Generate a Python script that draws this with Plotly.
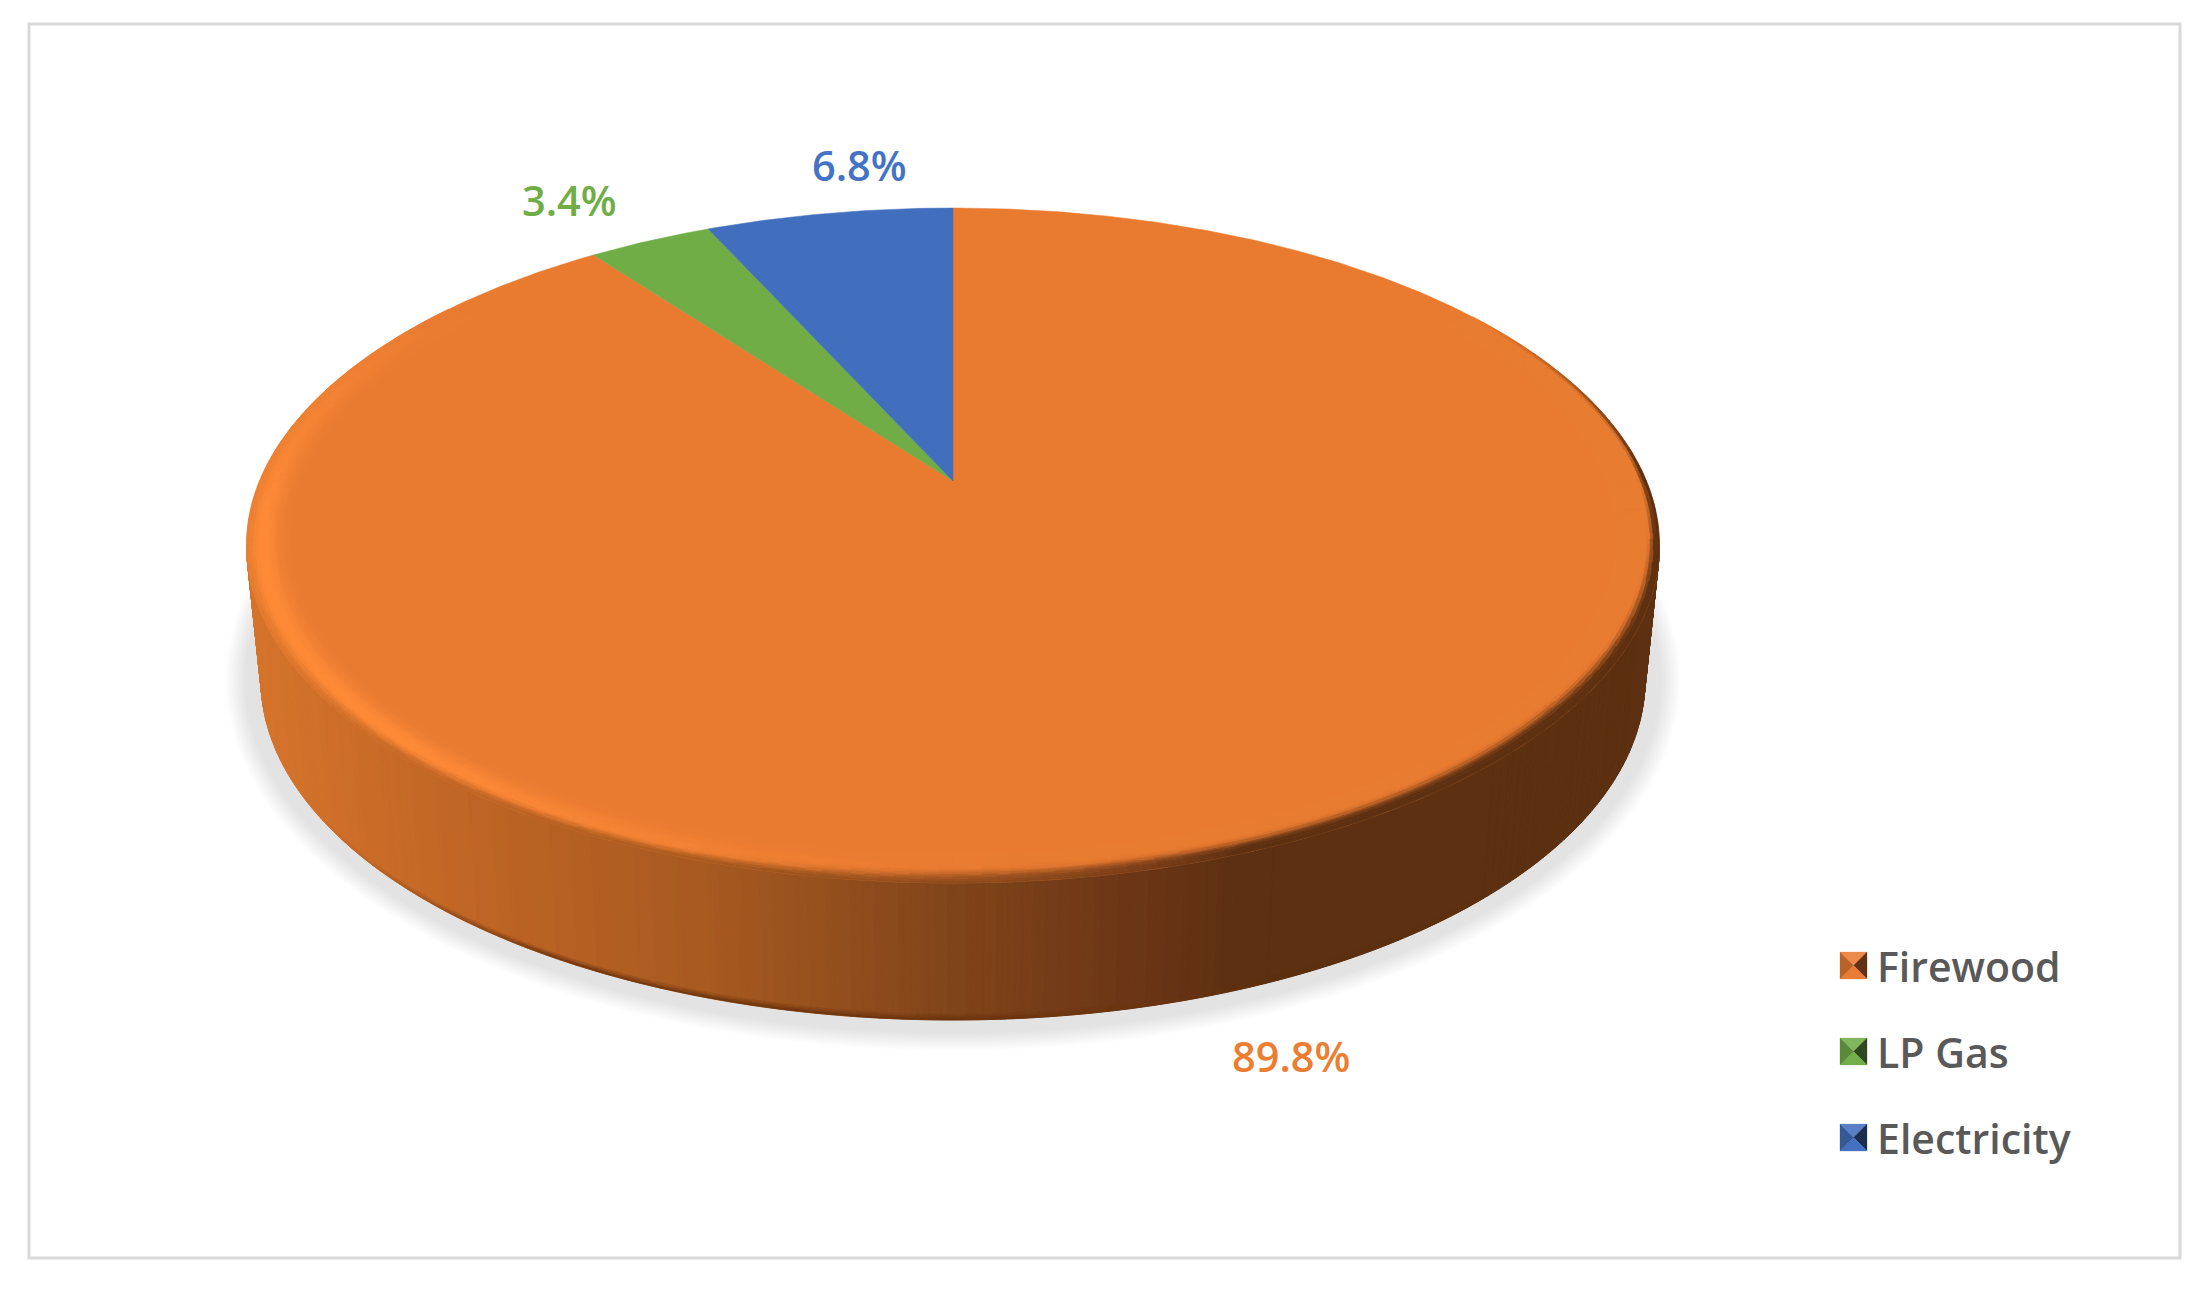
import numpy as np
import plotly.graph_objects as go

# chart data
categories = ["Firewood", "LP Gas", "Electricity"]
shares = [89.8, 3.4, 6.8]
share_labels = ["89.8%", "3.4%", "6.8%"]
slice_colors = ["#E97B31", "#70AD47", "#416FBE"]
label_colors = ["#ED7D31", "#70AD47", "#4472C4"]

# where things sit, in page pixels (the axes run 0-2204 and 1292-0)
label_x = [1291, 569, 859]
label_y = [1056, 200, 165]
legend_y = [965.5, 1051.5, 1137.5]
legend_icon_x = 1853.5
legend_text_x = 1875
icon_half = 13.5

W, H = 2204, 1292
FONT = "Open Sans"

# top face: circle seen in perspective, so the apex is above the ellipse centre
CX, APEX_Y = 953.0, 481.0
BACK_R, FRONT_R, TOP_RX = 273.0, 402.0, 706.5
K = (FRONT_R / BACK_R - 1) / (FRONT_R / BACK_R + 1)
B = BACK_R * (1 + K)
A = TOP_RX * np.sqrt(1 - K ** 2)
TOP_CY = APEX_Y + B * K / (1 - K ** 2)
TOP_RY = (FRONT_R + BACK_R) / 2

# bottom rim of the disc
BOT_CY, BOT_RX, BOT_RY = 680.0, 692.0, 340.0

# side wall colour by page x
side_x = [247, 480, 700, 968, 1146, 1236, 1660]
side_rgb = [(214, 116, 44), (190, 100, 37), (168, 90, 32), (126, 67, 25),
            (106, 53, 21), (93, 48, 17), (93, 48, 17)]

BASE = (233, 123, 49)
HIGHLIGHT = (255, 139, 56)


def hex_rgb(h):
    return tuple(int(h[i:i + 2], 16) for i in (1, 3, 5))


def mix(a, b, t):
    return tuple(a[i] + (b[i] - a[i]) * t for i in range(3))


def side_color(x):
    return tuple(np.interp(x, side_x, [c[i] for c in side_rgb]) for i in range(3))


def top_point(theta, s=1.0):
    """Point on the top face; theta in degrees clockwise from 12 o'clock, s = radial scale."""
    t = np.radians(theta)
    w = 1 + K * s * np.cos(t)
    return CX + A * s * np.sin(t) / w, APEX_Y - B * s * np.cos(t) / w


def ramp(v, a, b):
    return float(np.clip((v - a) / (b - a), 0, 1))


def smooth(t):
    return t * t * (3 - 2 * t)


def rim_color(theta, u):
    """Bevel colour; u runs 0 (inner) to 1 (outer edge)."""
    side = side_color(top_point(theta)[0])
    hl = ramp(theta, 178, 225) * (1 - ramp(theta, 262, 305))
    peak = mix(BASE, HIGHLIGHT, hl)
    if u < 0.65:
        col = mix(BASE, peak, smooth(u / 0.65))
    else:
        to_side = ramp(theta, 150, 190) * (1 - ramp(theta, 225, 295))
        col = mix(peak, side, to_side * smooth((u - 0.65) / 0.35))
    # right hand side fades straight into the dark wall
    dark = ramp(theta, 58, 88) * (1 - ramp(theta, 160, 200))
    width = 0.14 + 0.4 * ramp(theta, 85, 130)
    t = smooth(float(np.clip((u - (1 - width)) / (width * 0.7), 0, 1)))
    return mix(col, side, dark * t)


def add_quad(groups, xs, ys, rgb):
    key = tuple(int(round(c / 2.0) * 2) for c in rgb)
    gx, gy = groups.setdefault(key, ([], []))
    gx.extend(list(xs) + [xs[0], None])
    gy.extend(list(ys) + [ys[0], None])


def add_groups(fig, groups, line_width=1.0):
    for rgb, (gx, gy) in groups.items():
        col = "rgb(%d,%d,%d)" % rgb
        fig.add_trace(go.Scatter(x=gx, y=gy, mode="lines", fill="toself", fillcolor=col,
                                 line=dict(color=col, width=line_width),
                                 hoverinfo="skip", showlegend=False))


fig = go.Figure()

# soft shadow under the disc, flat near the wall and fading at the outside
shadow_steps = 14
for i in range(shadow_steps, 0, -1):
    f = 0.4 + 0.6 * i / shadow_steps
    phi = np.radians(np.arange(0, 361, 2))
    fig.add_trace(go.Scatter(
        x=CX + (BOT_RX + 36 * f) * np.sin(phi),
        y=BOT_CY - (BOT_RY + 31 * f) * np.cos(phi),
        mode="lines", fill="toself", fillcolor="rgba(0,0,0,0.0095)",
        line=dict(width=0), hoverinfo="skip", showlegend=False))

# side wall
side_groups = {}
step = 0.5
for phi in np.arange(90, 270, step):
    p = np.radians([phi, phi + step])
    tx = CX + TOP_RX * np.sin(p)
    ty = TOP_CY - TOP_RY * np.cos(p)
    bx = CX + BOT_RX * np.sin(p)
    by = BOT_CY - BOT_RY * np.cos(p)
    add_quad(side_groups, [tx[0], tx[1], bx[1], bx[0]], [ty[0], ty[1], by[1], by[0]], side_color(tx.mean()))
add_groups(fig, side_groups)

# slightly darker lip along the bottom of the wall
lip_groups = {}
for phi in np.arange(130, 245, 1.0):
    p = np.radians([phi, phi + 1.0])
    mid_x = CX + BOT_RX * np.sin(p).mean()
    strength = ramp(mid_x, 330, 560) * (1 - ramp(mid_x, 1000, 1260))
    for j in range(3):
        r0, r1 = 6 - 2 * j, 4 - 2 * j
        ox = CX + (BOT_RX - r1 * 0.2) * np.sin(p)
        oy = BOT_CY - (BOT_RY - r1) * np.cos(p)
        ix = CX + (BOT_RX - r0 * 0.2) * np.sin(p)
        iy = BOT_CY - (BOT_RY - r0) * np.cos(p)
        col = mix(side_color(mid_x), (104, 50, 12), strength * (0.25 + 0.3 * j))
        add_quad(lip_groups, [ix[0], ix[1], ox[1], ox[0]], [iy[0], iy[1], oy[1], oy[0]], col)
add_groups(fig, lip_groups, line_width=0.4)

# slices on the top face, clockwise from 12 o'clock
start = 0.0
for value, color in zip(shares, slice_colors):
    end = start + value / sum(shares) * 360
    angles = np.linspace(start, end, max(int(end - start) * 2, 2))
    px, py = top_point(angles)
    fig.add_trace(go.Scatter(
        x=[CX] + list(px) + [CX], y=[APEX_Y] + list(py) + [APEX_Y],
        mode="lines", fill="toself", fillcolor=color,
        line=dict(color=color, width=0.5), hoverinfo="skip", showlegend=False))
    start = end

# bevel along the rim
rim_groups = {}
rings = np.linspace(0.94, 1.0, 15)
d_theta = 1.0
for theta in np.arange(56, 306, d_theta):
    for j in range(len(rings) - 1):
        s0, s1 = rings[j], rings[j + 1]
        x00, y00 = top_point(theta, s0)
        x01, y01 = top_point(theta + d_theta, s0)
        x11, y11 = top_point(theta + d_theta, s1)
        x10, y10 = top_point(theta, s1)
        add_quad(rim_groups, [x00, x01, x11, x10], [y00, y01, y11, y10],
                 rim_color(theta + d_theta / 2, (j + 0.5) / (len(rings) - 1)))
add_groups(fig, rim_groups, line_width=0.6)

# legend swatches: small bevelled squares
for y_mid, color in zip(legend_y, slice_colors):
    base = hex_rgb(color)
    c = (legend_icon_x, y_mid)
    h = icon_half
    corners = [(c[0] - h, c[1] - h), (c[0] + h, c[1] - h), (c[0] + h, c[1] + h), (c[0] - h, c[1] + h)]
    faces = [mix(base, (255, 255, 255), 0.12), mix(base, (0, 0, 0), 0.58),
             mix(base, (255, 255, 255), 0.02), mix(base, (0, 0, 0), 0.2)]
    for i, face in enumerate(faces):
        a, b = corners[i], corners[(i + 1) % 4]
        col = "rgb(%d,%d,%d)" % tuple(int(v) for v in face)
        fig.add_trace(go.Scatter(x=[a[0], b[0], c[0], a[0]], y=[a[1], b[1], c[1], a[1]],
                                 mode="lines", fill="toself", fillcolor=col,
                                 line=dict(color=col, width=0.3), hoverinfo="skip", showlegend=False))

annotations = []
for txt, x, y, color in zip(share_labels, label_x, label_y, label_colors):
    annotations.append(dict(x=x, y=y, text=txt, showarrow=False, xanchor="center", yanchor="middle",
                            font=dict(family=FONT, size=41.5, color=color, weight=600)))
for name, y in zip(categories, legend_y):
    annotations.append(dict(x=legend_text_x, y=y, text=name, showarrow=False, xanchor="left", yanchor="middle",
                            font=dict(family=FONT, size=41, color="#595959", weight=600)))

fig.update_layout(
    width=W, height=H, margin=dict(l=0, r=0, t=0, b=0),
    paper_bgcolor="white", plot_bgcolor="white", showlegend=False,
    xaxis=dict(range=[0, W], visible=False, fixedrange=True),
    yaxis=dict(range=[H, 0], visible=False, fixedrange=True),
    annotations=annotations,
    shapes=[dict(type="rect", x0=29, y0=24, x1=2180, y1=1258,
                 line=dict(color="#D9D9D9", width=3), layer="below")],
)

fig.write_html("out.html", config={"displayModeBar": False},
               post_script="document.body.style.margin='0';document.body.style.overflow='hidden';")
